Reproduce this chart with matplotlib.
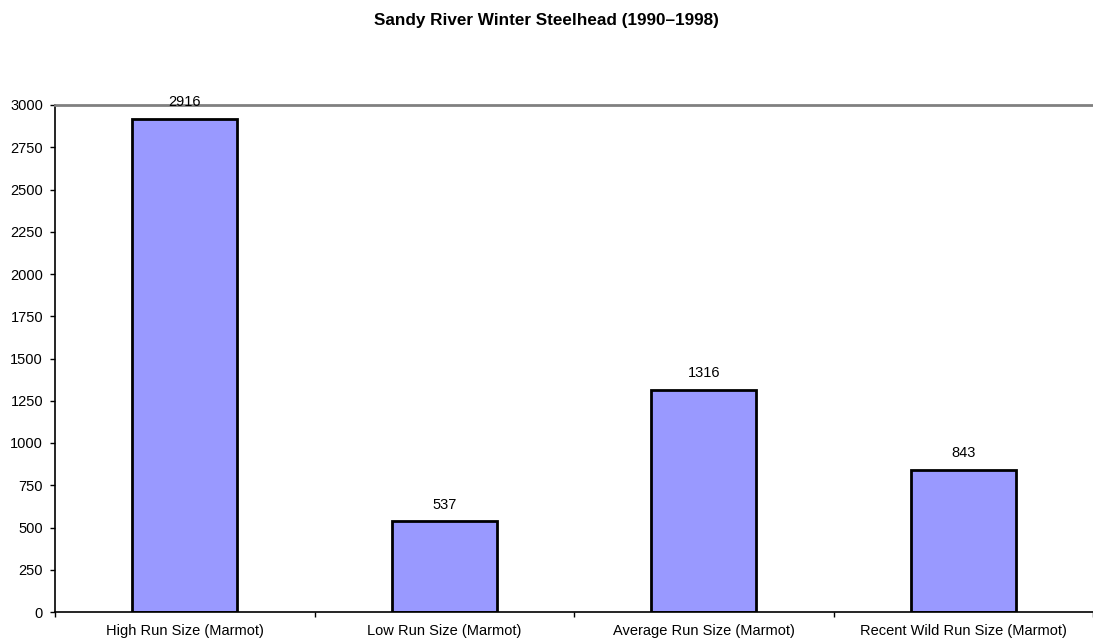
import matplotlib
matplotlib.use("Agg")
import matplotlib.pyplot as plt
import numpy as np

categories = ["High Run Size (Marmot)", "Low Run Size (Marmot)",
              "Average Run Size (Marmot)", "Recent Wild Run Size (Marmot)"]
values = [2916, 537, 1316, 843]
yticks = [0, 250, 500, 750, 1000, 1250, 1500, 1750, 2000, 2250, 2500, 2750, 3000]
title = "Sandy River Winter Steelhead (1990\u20131998)"

plt.rcParams['font.family'] = ['Liberation Sans', 'DejaVu Sans']
FS = 10.5

fig = plt.figure(figsize=(10.93, 6.43), dpi=100)
ax = fig.add_axes([55/1093, 1 - 612/643, 1 - 55/1093, (612 - 105)/643])

x = np.arange(len(categories))
ax.bar(x, values, width=0.405, color="#9999FF", edgecolor="black", linewidth=2, zorder=2)

for xi, v in zip(x, values):
    ax.annotate(str(v), (xi, v), xytext=(0, 7), textcoords="offset points",
                ha="center", va="bottom", fontsize=FS)

ax.set_xlim(-0.5, len(categories) - 0.5)
ax.set_ylim(0, 3000)
ax.set_yticks(yticks)
ax.set_yticklabels([str(t) for t in yticks], fontsize=FS)
ax.tick_params(axis='y', length=3.6, width=1, pad=5)

ax.set_xticks(x)
ax.set_xticklabels(categories, fontsize=FS)
ax.tick_params(axis='x', length=0, pad=9)
ax.set_xticks(np.arange(len(categories) + 1) - 0.5, minor=True)
ax.tick_params(axis='x', which='minor', length=3.6, width=1)

for s in ["left", "bottom"]:
    ax.spines[s].set_color("black")
    ax.spines[s].set_linewidth(1.2)
ax.spines["right"].set_visible(False)
ax.spines["top"].set_color("#808080")
ax.spines["top"].set_linewidth(2)

fig.text(0.5, 1 - 20/643, title, ha="center", va="center", fontsize=12.3, fontweight="bold")

fig.savefig("out.png", dpi=100)
